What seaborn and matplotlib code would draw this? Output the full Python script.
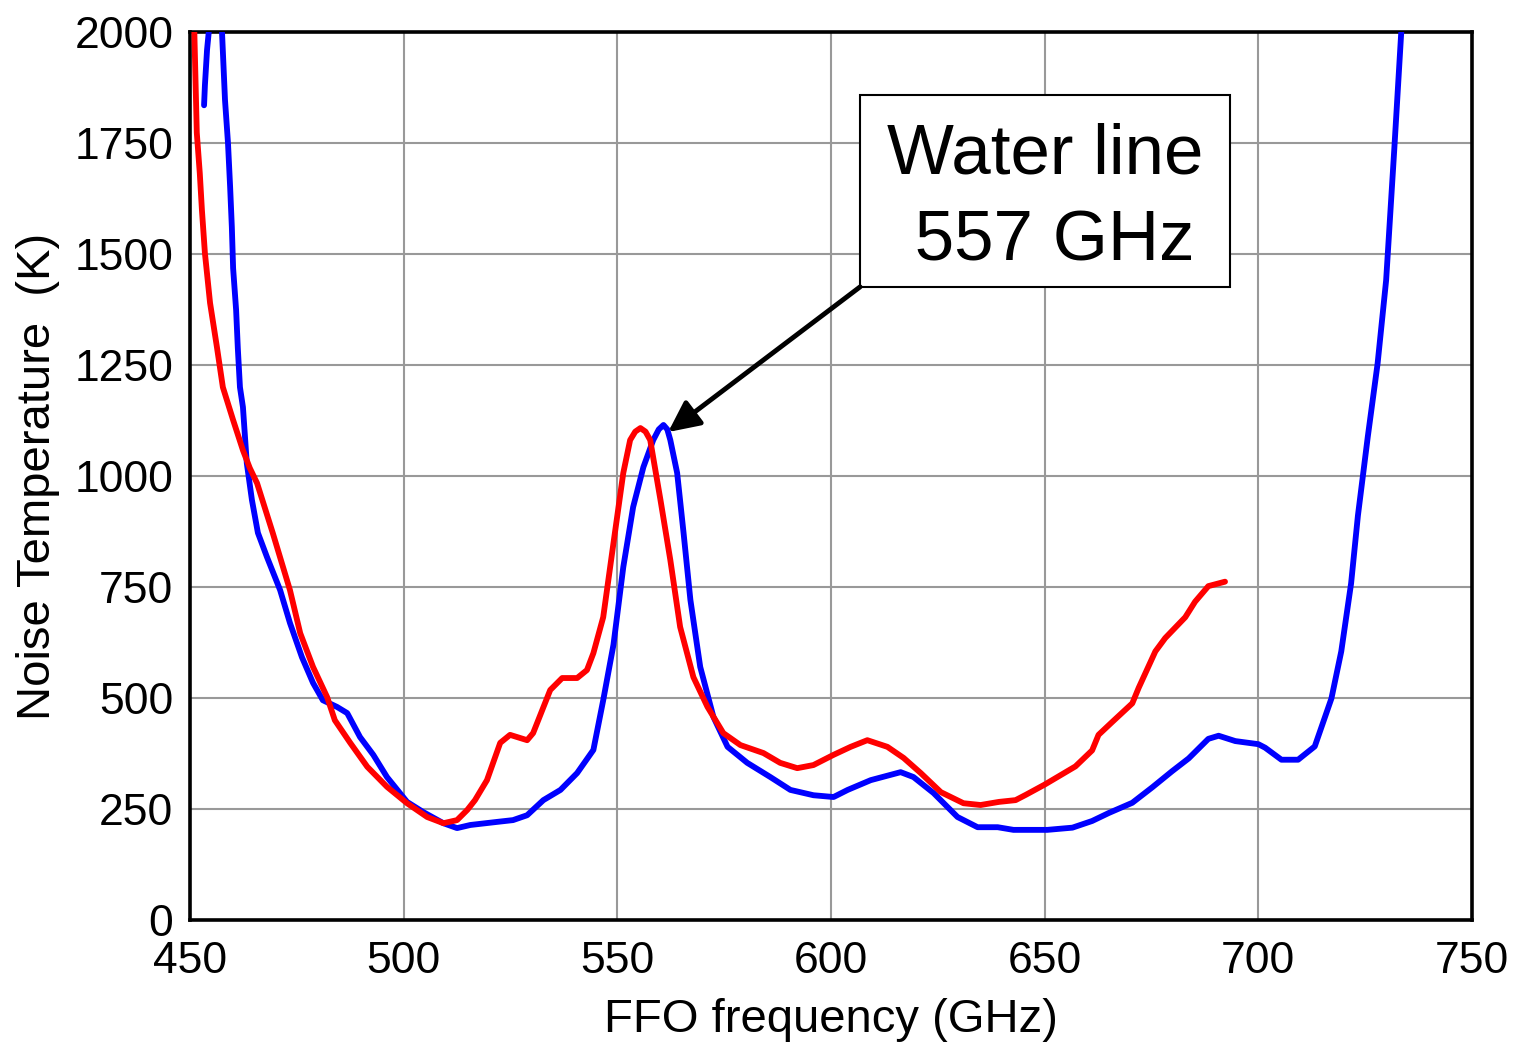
import matplotlib
matplotlib.use("Agg")
import matplotlib.pyplot as plt
from matplotlib.patches import Rectangle
import seaborn as sns
import pandas as pd

blue_x = [453.3, 453.5, 454.0, 454.4, 456.0, 457.5, 458.2, 458.9, 459.4, 459.8, 460.1, 460.8, 461.2, 461.7, 462.4, 463.3,
          464.5, 465.9, 468.0, 471.1, 473.4, 476.2, 478.8, 481.1, 484.4, 486.8, 489.8, 492.9, 496.1, 500.8, 504.6,
          509.3, 512.5, 515.6, 521.9, 525.6, 528.9, 532.7, 536.7, 540.6, 544.4, 546.7, 549.1, 551.4, 553.7, 556.1,
          558.4, 559.7, 560.8, 561.7, 562.4, 564.0, 565.5, 567.1, 569.4, 572.5, 575.8, 580.4, 585.8, 590.5, 595.9,
          600.6, 603.9, 609.3, 616.3, 619.3, 624.0, 629.6, 634.3, 639.0, 642.7, 650.6, 656.5, 661.1, 665.0, 670.5,
          675.2, 679.8, 683.7, 688.3, 690.7, 694.6, 700.0, 701.6, 705.4, 709.3, 713.2, 717.1, 719.4, 721.7, 723.3,
          725.6, 727.9, 729.9, 731.8, 733.4, 734.5]
blue_y = [1835, 1880, 1960, 2000, 2250, 2000, 1847, 1750, 1651, 1561, 1468, 1374, 1288, 1200, 1155, 1029,
          946, 872, 818, 743, 669, 592, 534, 495, 480, 466, 412, 372, 322, 266, 243,
          218, 207, 214, 221, 225, 236, 270, 293, 331, 383, 495, 620, 795, 930, 1020,
          1081, 1105, 1115, 1105, 1081, 1007, 872, 721, 570, 457, 390, 354, 322, 293, 281,
          277, 293, 315, 333, 322, 286, 232, 209, 209, 203, 203, 208, 223, 241, 264,
          299, 335, 364, 408, 415, 403, 396, 388, 361, 361, 391, 499, 605, 758, 911,
          1088, 1253, 1441, 1735, 1994, 2150]

red_x = [450.9, 451.6, 452.3, 452.8, 453.5, 454.7, 456.3, 457.7, 460.1, 462.4, 464.0, 465.7, 469.4, 473.4, 475.8,
         478.8, 482.1, 483.9, 487.5, 491.5, 496.1, 500.8, 505.5, 509.3, 512.5, 514.9, 516.7, 519.5, 522.6, 524.9,
         528.9, 530.3, 534.3, 537.1, 540.6, 542.9, 544.4, 546.7, 549.1, 551.4, 553.0, 554.2, 555.4, 556.6, 557.7,
         560.1, 562.4, 564.7, 567.8, 571.1, 574.8, 578.8, 584.2, 588.1, 592.1, 595.9, 600.6, 604.6, 608.5, 613.2,
         617.0, 621.0, 625.7, 631.0, 635.0, 639.3, 643.2, 645.6, 650.0, 657.2, 661.1, 662.6, 665.8, 670.5, 672.0,
         675.9, 678.2, 682.9, 685.2, 688.3, 692.2]
red_y = [2050, 1773, 1682, 1599, 1502, 1390, 1291, 1200, 1126, 1058, 1018, 984, 871, 743, 646,
         570, 502, 450, 399, 345, 300, 263, 232, 218, 225, 248, 270, 315, 399, 417,
         405, 421, 518, 545, 545, 563, 601, 682, 849, 1007, 1081, 1100, 1108, 1100, 1081,
         946, 811, 660, 547, 480, 421, 394, 376, 354, 342, 349, 372, 390, 405, 390,
         365, 331, 288, 263, 259, 266, 270, 282, 305, 346, 382, 417, 446, 488, 523,
         605, 635, 682, 717, 752, 762]

x_ticks = [450, 500, 550, 600, 650, 700, 750]
y_ticks = [0, 250, 500, 750, 1000, 1250, 1500, 1750, 2000]

sns.set_style("white")
plt.rcParams['font.family'] = ['Liberation Sans', 'DejaVu Sans']
plt.rcParams['text.color'] = 'black'
plt.rcParams['axes.labelcolor'] = 'black'
plt.rcParams['xtick.color'] = 'black'
plt.rcParams['ytick.color'] = 'black'

fig = plt.figure(figsize=(15.16, 10.47), dpi=100)
ax = fig.add_axes([0.1253, 0.1213, 0.8457, 0.8481])

df_b = pd.DataFrame({"f": blue_x, "T": blue_y})
df_r = pd.DataFrame({"f": red_x, "T": red_y})
sns.lineplot(data=df_b, x="f", y="T", ax=ax, color="#0000ff", lw=4.2, estimator=None, sort=False, zorder=3)
sns.lineplot(data=df_r, x="f", y="T", ax=ax, color="#ff0000", lw=4.2, estimator=None, sort=False, zorder=4)

ax.set_xlim(450, 750)
ax.set_ylim(0, 2000)
ax.set_xticks(x_ticks)
ax.set_yticks(y_ticks)
ax.grid(True, color="#999999", lw=1.5, zorder=0)
ax.set_axisbelow(True)
for s in ax.spines.values():
    s.set_color("black")
    s.set_linewidth(2.6)
ax.tick_params(axis='x', labelsize=32, length=6, width=1.5, color="#444444", direction='out', pad=9)
ax.tick_params(axis='y', labelsize=32, length=7, width=1.5, color="#444444", direction='out', pad=5)
ax.set_xlabel("FFO frequency (GHz)", fontsize=34, labelpad=12)
ax.set_ylabel("Noise Temperature  (K)", fontsize=34, labelpad=10)

ax.add_patch(Rectangle((606.8, 1426), 86.6, 432, fc='white', ec='black', lw=1.5, zorder=6))
ax.text(650.1, 1624, "Water line\n 557 GHz", ha='center', va='center', fontsize=51, linespacing=1.4,
        zorder=7)
ax.annotate("", xy=(561.9, 1099), xytext=(606.8, 1426),
            arrowprops=dict(arrowstyle='-|>,head_length=1.35,head_width=0.65', color='black', lw=3.5,
                            mutation_scale=14, shrinkA=0, shrinkB=0),
            zorder=6)

fig.savefig("out.png", dpi=100)
